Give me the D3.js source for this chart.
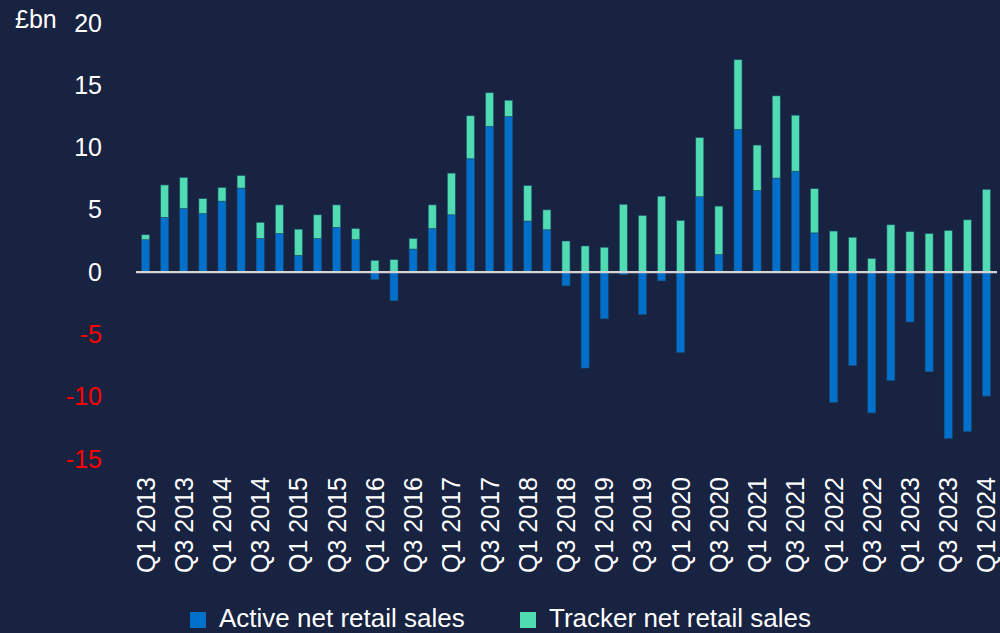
<!DOCTYPE html>
<html lang="en">
<head>
    <meta charset="UTF-8">
    <title>Active and tracker net retail sales</title>
    <script src="https://d3js.org/d3.v7.min.js"></script>
    <style>
        html, body {
            margin: 0;
            padding: 0;
            background: #182241;
        }
        svg {
            display: block;
            font-family: "Liberation Sans", Arial, sans-serif;
        }
        .tick-label {
            font-size: 25px;
        }
        .legend text {
            font-size: 26px;
            fill: #ffffff;
        }
    </style>
</head>
<body>

    <svg width="1000" height="633"></svg>

    <script>
        // quarters Q1 2013 .. Q1 2024
        const quarters = [];
        for (let yr = 2013; yr <= 2024; yr++) {
            for (let q = 1; q <= 4; q++) {
                if (yr === 2024 && q > 1) break;
                quarters.push("Q" + q + " " + yr);
            }
        }

        // £bn
        const active = [
            2.6, 4.4, 5.1, 4.7, 5.7, 6.75, 2.7, 3.1, 1.35, 2.7, 3.6, 2.6,
            -0.6, -2.3, 1.85, 3.5, 4.6, 9.1, 11.7, 12.5, 4.1, 3.4, -1.1, -7.7,
            -3.75, -0.2, -3.4, -0.7, -6.45, 6.05, 1.4, 11.45, 6.55, 7.55, 8.1, 3.15,
            -10.45, -7.5, -11.3, -8.7, -4.0, -8.0, -13.35, -12.8, -9.95
        ];
        const tracker = [
            0.4, 2.6, 2.5, 1.2, 1.1, 1.0, 1.3, 2.3, 2.1, 1.9, 1.8, 0.9,
            0.95, 1.0, 0.85, 1.9, 3.35, 3.45, 2.7, 1.3, 2.85, 1.6, 2.5, 2.1,
            2.0, 5.45, 4.55, 6.1, 4.15, 4.75, 3.9, 5.6, 3.65, 6.6, 4.5, 3.55,
            3.3, 2.8, 1.1, 3.8, 3.25, 3.1, 3.35, 4.2, 6.65
        ];
        const yTicks = [-15, -10, -5, 0, 5, 10, 15, 20];
        const seriesNames = ["Active net retail sales", "Tracker net retail sales"];
        const colors = ["#0070cc", "#50dbb0"];

        const svg = d3.select("svg");

        const x = d3.scaleBand()
            .domain(quarters)
            .range([136, 996])
            .paddingInner(0.58)
            .paddingOuter(0.29);

        const y = d3.scaleLinear()
            .domain([-15, 20])
            .range([459, 23]);

        // stacked with positive / negative offsets
        const table = quarters.map((q, i) => ({ q: q, active: active[i], tracker: tracker[i] }));
        const stack = d3.stack()
            .keys(["active", "tracker"])
            .offset(d3.stackOffsetDiverging);
        const layers = stack(table);

        svg.append("g")
            .selectAll("g")
            .data(layers)
            .enter().append("g")
            .attr("fill", (d, i) => colors[i])
            .selectAll("rect")
            .data(d => d)
            .enter().append("rect")
            .attr("x", d => x(d.data.q))
            .attr("width", x.bandwidth())
            .attr("y", d => y(Math.max(d[0], d[1])))
            .attr("height", d => Math.abs(y(d[0]) - y(d[1])))
            .attr("stroke", "#1d4e6e")
            .attr("stroke-width", 0.6);

        // zero line
        svg.append("line")
            .attr("x1", 136)
            .attr("x2", 997)
            .attr("y1", y(0))
            .attr("y2", y(0))
            .attr("stroke", "#d4d4d4")
            .attr("stroke-width", 2.2);

        // y axis labels (plain hyphen for negatives)
        const yAxis = d3.axisLeft(y)
            .tickValues(yTicks)
            .tickFormat(d => String(d))
            .tickSize(0)
            .tickPadding(0);
        const yg = svg.append("g")
            .attr("transform", "translate(102,0)")
            .call(yAxis);
        yg.select(".domain").remove();
        yg.selectAll("text")
            .attr("class", "tick-label")
            .attr("font-family", null)
            .attr("fill", d => d < 0 ? "#ff0000" : "#ffffff");

        svg.append("text")
            .attr("x", 15)
            .attr("y", 28)
            .attr("class", "tick-label")
            .attr("fill", "#ffffff")
            .text("£bn");

        // x axis labels, every other quarter
        const xAxis = d3.axisBottom(x)
            .tickValues(quarters.filter((q, i) => i % 2 === 0))
            .tickSize(0)
            .tickPadding(0);
        const xg = svg.append("g")
            .attr("transform", "translate(0,477)")
            .call(xAxis);
        xg.select(".domain").remove();
        xg.selectAll("text")
            .attr("class", "tick-label")
            .attr("font-family", null)
            .attr("fill", "#ffffff")
            .attr("text-anchor", "end")
            .attr("transform", "rotate(-90)")
            .attr("x", 0)
            .attr("y", 0)
            .attr("dy", "0.36em");

        // legend
        const legendX = [190, 520];
        const legend = svg.append("g")
            .attr("class", "legend")
            .selectAll("g")
            .data(seriesNames)
            .enter().append("g")
            .attr("transform", (d, i) => `translate(${legendX[i]},612)`);

        legend.append("rect")
            .attr("width", 16)
            .attr("height", 16)
            .attr("fill", (d, i) => colors[i]);

        legend.append("text")
            .attr("x", 29)
            .attr("y", 15)
            .text(d => d);
    </script>

</body>
</html>
